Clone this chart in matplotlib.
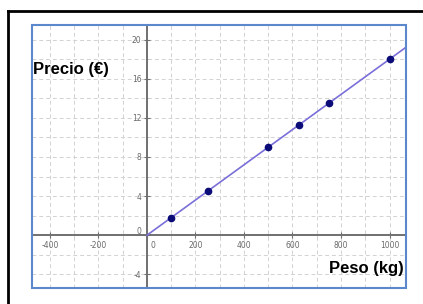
import numpy as np
import matplotlib
matplotlib.use("Agg")
import matplotlib.pyplot as plt
import matplotlib.transforms as mtransforms
from matplotlib.lines import Line2D
from matplotlib.patches import Rectangle
from matplotlib.ticker import MultipleLocator

# data
peso = [100, 250, 500, 625, 750, 1000]      # kg
precio = [1.8, 4.5, 9.0, 11.25, 13.5, 18.0]  # euros
x_ticks = [-400, -200, 0, 200, 400, 600, 800, 1000]
y_ticks = [-4, 0, 4, 8, 12, 16, 20]

W, H = 423, 304
fig = plt.figure(figsize=(W / 100, H / 100), dpi=100)
ax = fig.add_axes([32 / W, 16 / H, 374 / W, 263 / H])

xmin, xmax = -474, 1068
ax.set_xlim(xmin, xmax)
ax.set_ylim(-5.4, 21.5)

# grid every 100 kg / 2 euros
ax.xaxis.set_major_locator(plt.FixedLocator(x_ticks))
ax.yaxis.set_major_locator(plt.FixedLocator(y_ticks))
ax.xaxis.set_minor_locator(MultipleLocator(100))
ax.yaxis.set_minor_locator(MultipleLocator(2))
ax.grid(True, which="both", color="#d2d2d2", linestyle=(0, (4, 3)), linewidth=0.7)
ax.set_axisbelow(True)

# axes through the origin
for s in ["top", "right"]:
    ax.spines[s].set_visible(False)
ax.spines["left"].set_position(("data", 0))
ax.spines["bottom"].set_position(("data", 0))
for s in ["left", "bottom"]:
    ax.spines[s].set_color("#707070")
    ax.spines[s].set_linewidth(1.4)
ax.tick_params(which="major", direction="inout", length=4, width=0.8,
               color="#707070", labelsize=5.5, labelcolor="#6a6a6a", pad=2)
ax.tick_params(which="minor", direction="inout", length=2, width=0.6, color="#909090")
ax.set_xticklabels([str(v) for v in x_ticks])
ax.set_yticklabels([str(v) for v in y_ticks])

# GeoGebra puts the two zero labels beside the origin
fig.canvas.draw()
for lab in ax.get_xticklabels():
    if lab.get_text() == "0":
        lab.set_transform(lab.get_transform() +
                          mtransforms.ScaledTranslation(6 / 100, 0, fig.dpi_scale_trans))
for lab in ax.get_yticklabels():
    if lab.get_text() == "0":
        lab.set_transform(lab.get_transform() +
                          mtransforms.ScaledTranslation(0, 5 / 100, fig.dpi_scale_trans))

# blue frame around the graphics view
ax.add_patch(Rectangle((0, 0), 1, 1, transform=ax.transAxes, fill=False,
                       edgecolor="#5b88cc", linewidth=1.5, clip_on=False, zorder=5))

# proportional line through origin
slope = np.polyfit(peso, precio, 1)[0]
xs = np.array([0, xmax])
ax.plot(xs, slope * xs, color="#7a6fd8", linewidth=1.2, zorder=3)
ax.plot(peso, precio, "o", color="#0c0c78", markersize=4.5, zorder=4)

ax.text(-470, 16.9, "Precio (€)", fontsize=12, fontweight="bold",
        family="Liberation Sans", ha="left", va="center")
ax.text(1058, -3.4, "Peso (kg)", fontsize=12, fontweight="bold",
        family="Liberation Sans", ha="right", va="center")

# black border of the screenshot
y_top = 1 - 11 / H
fig.add_artist(Line2D([8 / W, 1], [y_top, y_top], color="black", linewidth=2,
                      transform=fig.transFigure))
fig.add_artist(Line2D([8 / W, 8 / W], [0, y_top], color="black", linewidth=2,
                      transform=fig.transFigure))

fig.savefig("out.png", dpi=100)
